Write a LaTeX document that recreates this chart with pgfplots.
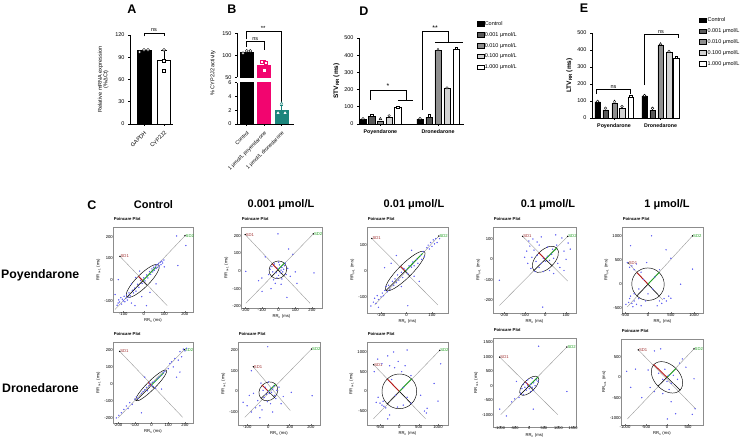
\documentclass[border=0pt]{standalone}
\usepackage{fontspec}
\setmainfont{Liberation Sans}
\usepackage{pgfplots}
\pgfplotsset{compat=1.18}
\definecolor{bpink}{HTML}{F2056F}
\definecolor{bteal}{HTML}{1B857C}
\definecolor{gA}{HTML}{5A5A5A}
\definecolor{gB}{HTML}{8E8E8E}
\definecolor{gC}{HTML}{D2D2D2}
\definecolor{dotblue}{HTML}{5C5CF2}
\definecolor{sdred}{HTML}{B81818}
\definecolor{sdgreen}{HTML}{1FA01F}
\definecolor{sdlab}{HTML}{A03030}
\newcommand\fs[1]{\fontsize{#1}{#1}\selectfont}
\pgfplotsset{
  gp/.style={scale only axis, axis x line*=bottom, axis y line*=left,
    axis line style={line width=0.8pt,-}, tick align=outside,
    major tick length=2pt, tick style={line width=0.6pt,black},
    tick label style={font=\fs{5.5}}, /pgf/number format/assume math mode=true,
    clip=false, ylabel style={font=\bfseries\fs{6.5}}},
  pc/.style={scale only axis, clip=false, axis line style={black!45,line width=0.5pt},
    tick align=inside, major tick length=1.2pt, tick style={black!55, line width=0.3pt}, tick pos=left,
    tick label style={font=\fs{4.2}}, /pgf/number format/assume math mode=true,
    /pgf/number format/1000 sep={},
    xlabel={RR\textsubscript{n} (ms)}, ylabel={RR\textsubscript{n+1} (ms)},
    label style={font=\fs{4.2}},
    xlabel style={yshift=1.5pt}, ylabel style={yshift=-0.5pt},
    title={Poincare Plot}, title style={font=\bfseries\fs{4.2}, at={(0,1)}, anchor=south west, inner sep=0.6pt},
    xticklabel style={yshift=1pt, inner sep=1pt}, yticklabel style={xshift=1pt, inner sep=1pt}},
  pt/.style={only marks, mark size=1.5pt, mark options={fill=white, draw=black, line width=0.4pt}, forget plot},
  br/.style={black, line width=0.5pt, forget plot},
  sw/.style={legend image code/.code={\draw[##1,/tikz/.cd,line width=0.5pt] (0pt,-2.3pt) rectangle (7pt,2.3pt);}},
  dots/.style={only marks, mark=*, mark size=0.45pt, dotblue},
}
\newcommand\sdlines[4]{%
 \addplot[black!40, line width=0.4pt] coordinates {(#1) (#2)};
 \addplot[black!40, line width=0.4pt] coordinates {(#3) (#4)};
 \addplot[only marks, mark=*, mark size=0.45pt, black] coordinates {(#2) (#3)};
 \node[sdlab, anchor=west, font=\fs{4.2}, inner sep=0.5pt] at (axis cs:#3) {SD1};
 \node[sdgreen, anchor=west, font=\fs{4.2}, inner sep=0.5pt] at (axis cs:#2) {SD2};
}
\newcommand\sdell[9]{%
 \draw[black, line width=0.45pt, rotate around={45:(axis cs:#2,#3)}] (axis cs:#2,#3) ellipse [x radius=#4, y radius=#5];
 \addplot[black, line width=0.5pt] coordinates {(#8) (#1) (#9)};
 \addplot[sdred, line width=0.9pt] coordinates {(#1) (#6)};
 \addplot[sdgreen, line width=0.9pt] coordinates {(#1) (#7)};
}
\begin{document}
\begin{tikzpicture}
\path[use as bounding box] (0pt,0pt) rectangle (749pt,443pt);
% panel letters
\node[font=\bfseries\fs{12.5}] at (132pt,434pt) {A};
\node[font=\bfseries\fs{12.5}] at (232pt,434pt) {B};
\node[font=\bfseries\fs{12.5}] at (364pt,432pt) {D};
\node[font=\bfseries\fs{12.5}] at (584pt,435pt) {E};
\node[font=\bfseries\fs{12.5}] at (92pt,238pt) {C};
% ---------- A ----------
\begin{axis}[gp, at={(130pt,319pt)}, anchor=south west, width=43pt, height=89pt,
  xmin=-0.7, xmax=1.45, ymin=0, ymax=120, ytick={0,30,60,90,120},
  xtick={0,1}, xticklabels={GAPDH,CYP2J2},
  xticklabel style={rotate=45, anchor=north east, font=\fs{5.5}},
  ylabel={Relative mRNA expression\\(\%ΔCt)}, ylabel style={align=center, font=\fs{5.5}}]
\addplot[ybar, bar shift=0pt, bar width=14pt, fill=black, draw=black] coordinates {(0,99)};
\addplot[ybar, bar shift=0pt, bar width=13pt, fill=white, draw=black, line width=0.9pt] coordinates {(1,86)};
\addplot[br] coordinates {(1,86) (1,100)};
\addplot[br] coordinates {(0.85,100) (1.15,100)};
\addplot[pt, mark=*] coordinates {(-0.22,97) (0,100) (0.2,100)};
\addplot[pt, mark=*] coordinates {(1,100)};
\addplot[pt, mark=square*] coordinates {(1,85) (1,72)};
\addplot[br] coordinates {(0,118) (0,123) (1,123) (1,118)};
\node[font=\fs{5.5}, anchor=south, inner sep=0.8pt] at (axis cs:0.5,123) {ns};
\end{axis}
% ---------- B ----------
\node[rotate=90, font=\fs{5.5}] at (213pt,370pt) {\% CYP2J2 activity};
\begin{axis}[gp, at={(237pt,365.7pt)}, anchor=south west, width=57pt, height=44pt,
  axis x line=none, xmin=-0.54, xmax=2.71, ymin=50, ymax=150, ytick={50,100,150}]
\addplot[fill=black, draw=black] coordinates {(-0.37,50) (-0.37,107) (0.37,107) (0.37,50)} -- cycle;
\addplot[fill=bpink, draw=bpink] coordinates {(0.63,50) (0.63,78) (1.37,78) (1.37,50)} -- cycle;
\addplot[br] coordinates {(0,107) (0,110)};
\addplot[br, bpink] coordinates {(1,78) (1,89) };
\addplot[br, bpink] coordinates {(0.9,89) (1.1,89)};
\addplot[pt, mark=*] coordinates {(-0.2,105) (0.02,110) (0.22,110)};
\addplot[pt, mark=square*, mark options={draw=bpink, fill=white}] coordinates {(0.85,86) (1.1,84)};
\addplot[pt, mark=square*, mark options={draw=white, fill=white}, mark size=1.2pt] coordinates {(1,66)};
\addplot[br] coordinates {(0,119) (0,131) (1,131) (1,112)};
\node[font=\fs{5.5}, anchor=south, inner sep=0.5pt] at (axis cs:0.5,131) {ns};
\addplot[br] coordinates {(0,136) (0,155) (2,155) (2,-5.5)};
\node[font=\fs{6}, anchor=south, inner sep=0.5pt] at (axis cs:0.95,155) {**};
\end{axis}
\begin{axis}[gp, clip=true, at={(237pt,319pt)}, anchor=south west, width=57pt, height=41.3pt,
  xmin=-0.54, xmax=2.71, ymin=0, ymax=6, ytick={0,2,4,6},
  xtick={0,1,2}, xticklabels={Control,1 μmol/L poyendarone,1 μmol/L dronedarone},
  xticklabel style={rotate=45, anchor=north east, font=\fs{5.2}}]
\addplot[ybar, bar shift=0pt, bar width=13pt, fill=black, draw=black] coordinates {(0,107)};
\addplot[ybar, bar shift=0pt, bar width=13pt, fill=bpink, draw=bpink] coordinates {(1,78)};
\addplot[ybar, bar shift=0pt, bar width=13pt, fill=bteal, draw=bteal] coordinates {(2,2.06)};
\addplot[br, bteal] coordinates {(2,2.06) (2,2.7)};
\addplot[br, bteal] coordinates {(1.9,2.7) (2.1,2.7)};
\addplot[pt, mark=triangle*, mark options={draw=bteal, fill=white}] coordinates {(2,3.0)};
\addplot[pt, mark=triangle*, mark options={draw=white, fill=white}, mark size=1.3pt] coordinates {(1.8,1.6) (2.2,1.6)};
\end{axis}
% ---------- D ----------
\begin{axis}[gp, sw, at={(359pt,319pt)}, anchor=south west, width=105pt, height=86pt,
  xmin=0, xmax=105, ymin=0, ymax=500, ytick={0,100,200,300,400,500},
  xtick={21.4,79}, xticklabels={Poyendarone,Dronedarone}, xticklabel style={font=\bfseries\fs{5.3}},
  ylabel={STV\textsubscript{RR} (ms)}, ylabel style={yshift=-2pt},
  legend style={at={(1.09,1.225)}, anchor=north west, draw=none, fill=none, font=\fs{5.5},
    row sep=4.6pt, nodes={inner sep=0.6pt, text height=4pt, text depth=1pt}},
  legend cell align=left, legend columns=1]
\addplot[ybar, bar shift=0pt, bar width=6.5pt, fill=black, draw=black] coordinates {(4,27) (61,29)};
\addlegendentry{Control}
\addplot[ybar, bar shift=0pt, bar width=6.5pt, fill=gA, draw=black] coordinates {(12.7,45) (70,40)};
\addlegendentry{0.001 μmol/L}
\addplot[ybar, bar shift=0pt, bar width=6.5pt, fill=gB, draw=black] coordinates {(21.4,18) (79,428)};
\addlegendentry{0.010 μmol/L}
\addplot[ybar, bar shift=0pt, bar width=6.5pt, fill=gC, draw=black] coordinates {(30.1,40) (88,208)};
\addlegendentry{0.100 μmol/L}
\addplot[ybar, bar shift=0pt, bar width=6.5pt, fill=white, draw=black] coordinates {(38.8,95) (97,436)};
\addlegendentry{1.000 μmol/L}
\addplot[pt, mark=*, mark size=1.3pt] coordinates {(4,31) (61,32) (30.1,48) (88,210)};
\addplot[pt, mark=square*, mark size=1.3pt] coordinates {(12.7,52) (70,48) (38.8,98) (97,440)};
\addplot[pt, mark=triangle*, mark size=1.5pt] coordinates {(21.4,30) (79,432)};
\addplot[br] coordinates {(11,140) (11,198) (47,198) (47,140)};
\addplot[br] coordinates {(39,140) (54,140)};
\node[font=\fs{7}, anchor=south, inner sep=0.5pt] at (axis cs:29,203) {*};
\addplot[br] coordinates {(63,81) (63,537) (89,537) (89,478)};
\addplot[br] coordinates {(76,478) (104,478)};
\node[font=\fs{7}, anchor=south, inner sep=0.5pt] at (axis cs:76,542) {**};
\end{axis}
% ---------- E ----------
\begin{axis}[gp, sw, at={(592pt,325pt)}, anchor=south west, width=88pt, height=85pt,
  xmin=0, xmax=88, ymin=0, ymax=500, ytick={0,100,200,300,400,500},
  xtick={22,68.5}, xticklabels={Poyendarone,Dronedarone}, xticklabel style={font=\bfseries\fs{5.3}},
  ylabel={LTV\textsubscript{RR} (ms)}, ylabel style={yshift=-2pt},
  legend style={at={(1.185,1.21)}, anchor=north west, draw=none, fill=none, font=\fs{5.5},
    row sep=4.6pt, nodes={inner sep=0.6pt, text height=4pt, text depth=1pt}},
  legend cell align=left, legend columns=1]
\addplot[ybar, bar shift=0pt, bar width=5.5pt, fill=black, draw=black] coordinates {(5.5,95) (52.5,130)};
\addlegendentry{Control}
\addplot[ybar, bar shift=0pt, bar width=5.5pt, fill=gA, draw=black] coordinates {(13.5,48) (60.5,47)};
\addlegendentry{0.001 μmol/L}
\addplot[ybar, bar shift=0pt, bar width=5.5pt, fill=gB, draw=black] coordinates {(22.5,88) (68.5,430)};
\addlegendentry{0.010 μmol/L}
\addplot[ybar, bar shift=0pt, bar width=5.5pt, fill=gC, draw=black] coordinates {(30,55) (77,388)};
\addlegendentry{0.100 μmol/L}
\addplot[ybar, bar shift=0pt, bar width=5.5pt, fill=white, draw=black] coordinates {(38.5,125) (84,352)};
\addlegendentry{1.000 μmol/L}
\addplot[pt, mark=*, mark size=1.3pt] coordinates {(5.5,98) (52.5,132) (13.5,58) (60.5,57) (30,68) (77,392)};
\addplot[pt, mark=square*, mark size=1.3pt] coordinates {(38.5,128) (84,357)};
\addplot[pt, mark=triangle*, mark size=1.5pt] coordinates {(22.5,97) (68.5,435)};
\addplot[br] coordinates {(4.7,141) (4.7,169) (38,169) (38,141)};
\node[font=\fs{5.5}, anchor=south, inner sep=0.8pt] at (axis cs:21.4,169) {ns};
\addplot[br] coordinates {(52,194) (52,492) (86,492) (86,469)};
\node[font=\fs{5.5}, anchor=south, inner sep=0.8pt] at (axis cs:69,492) {ns};
\end{axis}
% ---------- C headers ----------
\node[font=\bfseries\fs{11}] at (153.5pt,238pt) {Control};
\node[font=\bfseries\fs{11}] at (281pt,238pt) {0.001 μmol/L};
\node[font=\bfseries\fs{11}] at (414pt,238pt) {0.01 μmol/L};
\node[font=\bfseries\fs{11}] at (548pt,238pt) {0.1 μmol/L};
\node[font=\bfseries\fs{11}] at (667pt,238pt) {1 μmol/L};
\node[font=\bfseries\fs{12.3}, anchor=west, inner sep=0pt] at (1pt,168pt) {Poyendarone};
\node[font=\bfseries\fs{12.3}, anchor=west, inner sep=0pt] at (2pt,55pt) {Dronedarone};
% ---------- P1 ----------
\begin{axis}[pc, at={(113pt,131pt)}, anchor=south west, width=80pt, height=85pt,
  xmin=-150, xmax=240, ymin=-152, ymax=247, xtick={-100,0,100,200}, ytick={-100,0,100,200}]
\sdlines{-140,-140}{201,206}{-116,109}{114,-122}
\addplot[dots] coordinates {(-130,-120) (-125,-110) (-122,-95) (-118,-105) (-112,-85) (-108,-115) (-104,-92) (-100,-100) (-96,-78) (-92,-104) (-88,-88) (-84,-72) (-80,-96) (-76,-82) (-72,-62) (-66,-76) (-60,-110) (-56,-50) (-50,-62) (-44,-40) (-38,-54) (-30,-22) (-24,-36) (-16,-4) (-8,-18) (0,8) (6,-6) (14,22) (20,8) (28,38) (34,24) (40,50) (44,36) (48,58) (52,44) (56,64) (60,52) (64,70) (68,58) (72,76) (76,64) (80,82) (84,70) (88,86) (92,78) (98,92) (160,205) (205,160) (166,66) (-124,0) (-43,-122) (13,-122) (-140,-70) (-20,40) (30,-60) (-40,10) (60,-20) (100,60) (-60,-20) (-10,-80)};
\sdell{-5,-6}{-5}{-6}{110}{30}{-26,15}{61,60}{-83,-84}{16,-27}
\end{axis}
% ---------- P2 ----------
\begin{axis}[pc, at={(241pt,135pt)}, anchor=south west, width=81pt, height=81pt,
  xmin=-225, xmax=260, ymin=-210, ymax=250, xtick={-200,-100,0,100,200}, ytick={-200,-100,0,100,200}]
\sdlines{-196,-183}{208,211}{-200,207}{188,-183}
\addplot[dots] coordinates {(-196,-2) (212,-11) (-4,211) (-99,-116) (60,125) (85,95) (-100,-40) (-120,-55) (-60,-20) (-30,-50) (-20,-70) (-10,-40) (0,-25) (10,-10) (15,5) (20,20) (25,-5) (30,10) (35,30) (40,45) (-5,15) (-15,-10) (5,35) (45,-20) (-40,25) (-25,40) (55,15) (100,-5) (110,-70) (50,-150) (-45,-100) (-80,80) (-35,-5) (70,-30) (20,-45) (-50,10) (0,50) (15,-75)};
\sdell{-4,7}{-4}{7}{55}{48}{-38,41}{35,46}{-43,-32}{30,-27}
\end{axis}
% ---------- P3 ----------
\begin{axis}[pc, at={(367pt,130pt)}, anchor=south west, width=81pt, height=86pt,
  xmin=-155, xmax=163, ymin=-162, ymax=170, xtick={-100,0,100}, ytick={-100,0,100}]
\sdlines{-125,-131}{127,135}{-136,126}{123,-131}
\addplot[dots] coordinates {(-140,-135) (-130,-120) (-125,-105) (-120,-125) (-115,-95) (-110,-110) (-100,-100) (-95,-85) (-90,-95) (-85,-75) (-80,-60) (-75,-80) (-70,-55) (-65,-70) (-55,-40) (-50,-55) (-45,-30) (-40,-45) (-35,-15) (-30,-35) (-20,-5) (-15,-25) (-10,10) (0,5) (5,-10) (10,20) (20,15) (25,35) (30,20) (40,45) (45,30) (55,60) (60,45) (65,75) (70,55) (80,90) (85,100) (90,85) (95,110) (100,95) (105,120) (110,105) (115,125) (120,110) (130,125) (-86,13) (5,-134) (-60,30) (-20,-60) (30,-20) (50,-40) (-110,-140) (-40,60) (20,80)};
\sdell{-5,0}{-5}{0}{107}{26}{-23,18}{63,68}{-81,-76}{13,-18}
\end{axis}
% ---------- P4 ----------
\begin{axis}[pc, at={(493pt,130pt)}, anchor=south west, width=83pt, height=86pt,
  xmin=-253, xmax=148, ymin=-264, ymax=159, xtick={-200,-100,0,100}, ytick={-200,-100,0,100}]
\sdlines{-222,-227}{108,113}{-110,113}{108,-107}
\addplot[dots] coordinates {(-222,-103) (-13,-235) (-80,90) (-60,100) (-40,85) (-20,110) (50,120) (80,105) (110,80) (120,50) (90,40) (-90,40) (-100,10) (-85,-20) (-70,-45) (-50,-60) (-30,-40) (-20,-20) (-10,5) (0,-10) (10,15) (20,-5) (30,25) (40,5) (-40,20) (-55,45) (-65,10) (60,-20) (70,-40) (90,-55) (40,-70) (20,-55) (-10,-60) (-30,70) (10,60) (35,50) (-75,65) (-45,-10) (55,70) (100,0)};
\sdell{0,0}{0}{0}{78}{45}{-32,32}{55,55}{-55,-55}{32,-32}
\end{axis}
% ---------- P5 ----------
\begin{axis}[pc, at={(622pt,130pt)}, anchor=south west, width=81pt, height=86pt,
  xmin=-565, xmax=1196, ymin=-600, ymax=1190, xtick={-500,0,500,1000}, ytick={-500,0,500,1000}]
\sdlines{-450,-473}{968,1006}{-430,440}{322,-330}
\addplot[dots] coordinates {(78,1006) (-380,800) (393,715) (968,312) (709,0) (498,-292) (-28,450) (498,540) (-400,-300) (-350,-400) (-300,-350) (-250,-420) (-420,-380) (-380,-250) (-300,-200) (-200,-300) (-150,-450) (250,-350) (300,-400) (350,-300) (200,-450) (-450,450) (-350,380) (-300,300) (-400,350) (-250,420) (-150,250) (100,-100) (-100,100) (0,-200) (150,150) (-50,-350) (400,-350) (-480,-420) (-330,-470) (450,-250) (250,300) (-200,-100)};
\sdell{0,0}{0}{0}{350}{340}{-240,240}{247,247}{-247,-247}{240,-240}
\end{axis}
% ---------- Q1 ----------
\begin{axis}[pc, at={(113pt,20pt)}, anchor=south west, width=80pt, height=81pt,
  xmin=-230, xmax=248, ymin=-230, ymax=247, xtick={-200,-100,0,100,200}, ytick={-200,-100,0,100,200}]
\sdlines{-200,-200}{196,202}{-190,192}{186,-196}
\addplot[dots] coordinates {(-210,-200) (-195,-185) (-180,-170) (-165,-150) (-150,-130) (-140,-145) (-130,-110) (-115,-120) (-100,-90) (-90,-75) (-80,-85) (-60,-55) (-50,-45) (-40,-35) (-30,-20) (-25,-40) (-15,-10) (-10,5) (0,-5) (5,10) (10,-15) (20,15) (25,-25) (35,30) (45,40) (60,50) (70,65) (80,75) (100,90) (110,120) (130,100) (140,150) (160,140) (170,190) (180,160) (190,205) (200,195) (210,210) (150,40) (-60,-170) (60,-30) (-40,40) (120,130) (170,70)};
\sdell{-2,-9}{-2}{-9}{129}{25}{-20,9}{75,68}{-93,-100}{16,-27}
\end{axis}
% ---------- Q2 ----------
\begin{axis}[pc, at={(238pt,18pt)}, anchor=south west, width=82pt, height=83pt,
  xmin=-143, xmax=243, ymin=-163, ymax=239, xtick={-100,0,100,200}, ytick={-100,0,100,200}]
\sdlines{-111,-126}{203,205}{-71,119}{103,-93}
\addplot[dots] coordinates {(-3,216) (-119,-53) (206,-21) (-40,-128) (108,-5) (-80,100) (-90,-20) (-70,-10) (-50,-45) (-40,-70) (-30,-90) (-20,-30) (-10,-15) (0,0) (5,-10) (10,15) (15,-5) (20,10) (25,25) (-15,20) (-25,5) (30,-20) (35,-35) (40,5) (-5,-50) (10,-60) (-60,-80) (60,-60) (-100,-70) (-80,-100) (50,20) (70,-25) (-35,40) (0,45) (20,-100)};
\sdell{0,0}{0}{0}{48}{42}{-30,30}{34,34}{-34,-34}{30,-30}
\end{axis}
% ---------- Q3 ----------
\begin{axis}[pc, at={(367pt,18pt)}, anchor=south west, width=81pt, height=83pt,
  xmin=-837, xmax=1259, ymin=-855, ymax=1254, xtick={-500,0,500,1000}, ytick={-500,0,500,1000}]
\sdlines{-666,-693}{1044,1041}{-666,678}{674,-693}
\addplot[dots] coordinates {(-650,500) (-560,820) (-450,700) (-300,900) (-250,650) (-120,600) (-30,760) (60,500) (150,650) (200,1050) (-150,1000) (-600,-280) (-500,-300) (-450,-350) (-400,-380) (-420,-250) (-350,-420) (-550,-150) (-250,-600) (-300,-700) (-50,-400) (100,-350) (200,-150) (300,-300) (650,-500) (700,-550) (720,-430) (1000,-250) (900,200) (1070,700) (550,-100) (-200,300) (100,100) (-100,-100) (300,400)};
\sdell{0,0}{0}{0}{450}{440}{-311,311}{318,318}{-318,-318}{311,-311}
\end{axis}
% ---------- Q4 ----------
\begin{axis}[pc, at={(493pt,16pt)}, anchor=south west, width=83pt, height=89pt,
  xmin=-1241, xmax=1600, ymin=-1414, ymax=1638, xtick={-1000,-500,0,500,1000,1500}, ytick={-1000,-500,0,500,1000,1500},
  xticklabel style={font=\fs{3.9}}]
\sdlines{-976,-993}{1286,1328}{-1010,983}{976,-993}
\addplot[dots] coordinates {(-1010,-800) (-783,-1034) (1286,-197) (321,1357) (-438,147) (138,-803) (-600,-550) (-500,-450) (-300,-250) (-250,-100) (-200,-300) (-150,-50) (-100,-150) (-50,0) (0,-100) (50,50) (100,-50) (150,100) (200,0) (250,200) (300,150) (-100,100) (-50,200) (100,250) (-200,50) (50,-200) (-350,-400) (150,-150)};
\sdell{0,0}{0}{0}{420}{200}{-141,141}{297,297}{-297,-297}{141,-141}
\end{axis}
% ---------- Q5 ----------
\begin{axis}[pc, at={(621pt,18pt)}, anchor=south west, width=82pt, height=86pt,
  xmin=-1095, xmax=857, ymin=-1172, ymax=943, xtick={-1000,-500,0,500}, ytick={-1000,-500,0,500}]
\sdlines{-945,-1025}{643,700}{-683,675}{683,-778}
\addplot[dots] coordinates {(-960,148) (-864,-246) (-151,700) (8,-1023) (667,-773) (603,-911) (206,-895) (643,-35) (365,453) (-750,200) (-450,180) (-300,650) (-300,-350) (-100,-400) (0,-100) (50,-300) (100,-150) (150,50) (-50,200) (-200,100) (250,-50) (300,350) (450,250) (-400,-250) (-600,-500) (100,-600) (-100,-50) (30,50)};
\sdell{0,0}{0}{0}{300}{450}{-318,318}{212,212}{-212,-212}{318,-318}
\end{axis}
\end{tikzpicture}
\end{document}
